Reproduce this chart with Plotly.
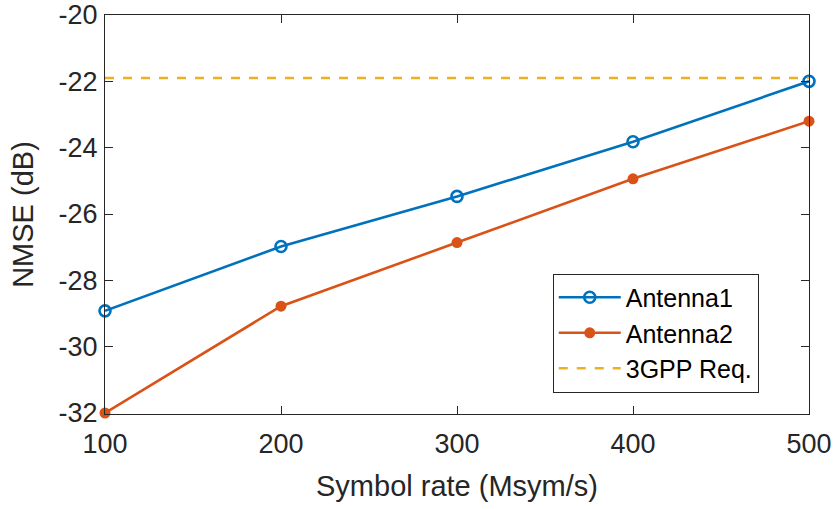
import plotly.graph_objects as go

symbol_rate = [100, 200, 300, 400, 500]
antenna1 = [-28.92, -26.98, -25.47, -23.82, -22.0]
antenna2 = [-32.0, -28.78, -26.86, -24.94, -23.2]
req_level = -21.9
y_ticks = [-32, -30, -28, -26, -24, -22, -20]

blue = '#0072BD'
orange = '#D95319'
yellow = '#EDB120'
axis_col = '#262626'
font_fam = 'Liberation Sans, Arial'

fig = go.Figure()
fig.add_trace(go.Scatter(
    x=symbol_rate, y=antenna1, mode='lines+markers', name='Antenna1',
    line=dict(color=blue, width=2.6),
    marker=dict(symbol='circle-open', size=11, color=blue, line=dict(width=2.6)),
    cliponaxis=False
))
fig.add_trace(go.Scatter(
    x=symbol_rate, y=antenna2, mode='lines+markers', name='Antenna2',
    line=dict(color=orange, width=2.6),
    marker=dict(symbol='circle', size=11, color=orange),
    cliponaxis=False
))
fig.add_trace(go.Scatter(
    x=[symbol_rate[0], symbol_rate[-1]], y=[req_level, req_level], mode='lines',
    name='3GPP Req.', line=dict(color=yellow, width=2.6, dash='dash')
))

axis_style = dict(
    showline=True, linecolor=axis_col, linewidth=1.2, mirror='ticks',
    ticks='inside', ticklen=8, tickcolor=axis_col, tickwidth=1.2,
    showgrid=False, zeroline=False, automargin=False,
    tickfont=dict(family=font_fam, size=27, color=axis_col),
)

fig.update_xaxes(
    range=[100, 500], tickvals=symbol_rate, ticklabelstandoff=5,
    title=dict(text='Symbol rate (Msym/s)', font=dict(family=font_fam, size=29, color=axis_col), standoff=18),
    **axis_style
)
fig.update_yaxes(
    range=[-32.03, -20], tickvals=y_ticks, ticktext=[str(v) for v in y_ticks],
    ticklabelstandoff=1,
    title=dict(text='NMSE (dB)', font=dict(family=font_fam, size=29, color=axis_col), standoff=16),
    **axis_style
)

fig.update_layout(
    width=833, height=509,
    margin=dict(l=105, r=24, t=15, b=95),
    plot_bgcolor='white', paper_bgcolor='white',
    legend=dict(
        x=0.636, y=0.352, xanchor='left', yanchor='top',
        bordercolor=axis_col, borderwidth=1, bgcolor='white',
        font=dict(family=font_fam, size=25, color='black'),
        tracegroupgap=0, itemwidth=62
    ),
)

# drop the default 8px body margin so the figure sits at the window corner
fig.write_html("out.html", config=dict(displayModeBar=False),
               post_script="document.body.style.margin='0';")
